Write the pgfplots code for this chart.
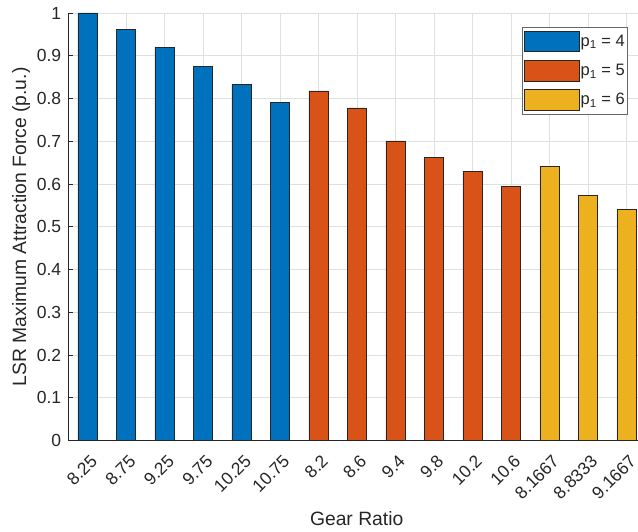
\documentclass[border=0pt]{standalone}
\usepackage{fontspec}
\setmainfont{Liberation Sans}
\usepackage{pgfplots}
\pgfplotsset{compat=1.18}
\definecolor{mblue}{RGB}{0,114,189}
\definecolor{morange}{RGB}{217,83,25}
\definecolor{myellow}{RGB}{237,177,32}
\definecolor{mtext}{RGB}{38,38,38}
\definecolor{mgrid}{RGB}{223,223,223}
\begin{document}
\begin{tikzpicture}
\begin{axis}[
  name=ax,
  scale only axis,
  width=569.7pt, height=427.5pt,
  xmin=0.5, xmax=15.3, ymin=0, ymax=1,
  axis x line*=bottom, axis y line*=left,
  axis line style={mtext, line width=0.6pt},
  ybar, bar width=0.5, bar shift=0pt,
  xtick={1,2,3,4,5,6,7,8,9,10,11,12,13,14,15},
  xticklabels={8.25,8.75,9.25,9.75,10.25,10.75,8.2,8.6,9.4,9.8,10.2,10.6,8.1667,8.8333,9.1667},
  ytick={0,0.1,0.2,0.3,0.4,0.5,0.6,0.7,0.8,0.9,1},
  /pgf/number format/assume math mode=true,
  tick label style={font=\fontsize{17.5}{20}\selectfont, text=mtext},
  xticklabel style={xshift=6.5pt, yshift=-17.5pt, rotate=45, anchor=east, inner sep=0pt},
  yticklabel style={inner sep=0pt, xshift=-7pt},
  tick align=inside,
  major tick length=5pt,
  tick style={mtext, line width=0.6pt},
  grid=major,
  major grid style={mgrid, line width=0.6pt},
  xlabel={Gear Ratio},
  ylabel={LSR Maximum Attraction Force (p.u.)},
  xlabel style={font=\fontsize{19.3}{22}\selectfont, text=mtext, at={(axis description cs:0.5062,-0.1984)}, anchor=base, inner sep=0pt},
  ylabel style={font=\fontsize{19.3}{22}\selectfont, text=mtext, at={(axis description cs:-0.083,0.5)}, anchor=center, inner sep=0pt},
  legend style={at={(1,1)}, anchor=north east, xshift=-10pt, yshift=-14pt,
    draw=gray!80!black, line width=0.6pt, fill=white,
    font=\fontsize{16.5}{19}\selectfont, text=mtext,
    inner xsep=1.5pt, inner ysep=3.5pt, row sep=8pt,
    nodes={inner sep=1.5pt}},
  legend cell align=left,
  legend image code/.code={\draw[#1] (0pt,-10.3pt) rectangle (55pt,10.3pt);},
]
\addplot[fill=mblue, draw=mtext, line width=0.6pt] coordinates {(1,1.0) (2,0.961) (3,0.920) (4,0.876) (5,0.833) (6,0.791)};
\addlegendentry{p\textsubscript{1} = 4}
\addplot[fill=morange, draw=mtext, line width=0.6pt] coordinates {(7,0.818) (8,0.778) (9,0.701) (10,0.663) (11,0.630) (12,0.594)};
\addlegendentry{p\textsubscript{1} = 5}
\addplot[fill=myellow, draw=mtext, line width=0.6pt] coordinates {(13,0.641) (14,0.573) (15,0.540)};
\addlegendentry{p\textsubscript{1} = 6}
\end{axis}
\pgfresetboundingbox
\path ([xshift=-68.3pt,yshift=-90.5pt]ax.south west) rectangle ([yshift=13pt]ax.north east);
\end{tikzpicture}
\end{document}
